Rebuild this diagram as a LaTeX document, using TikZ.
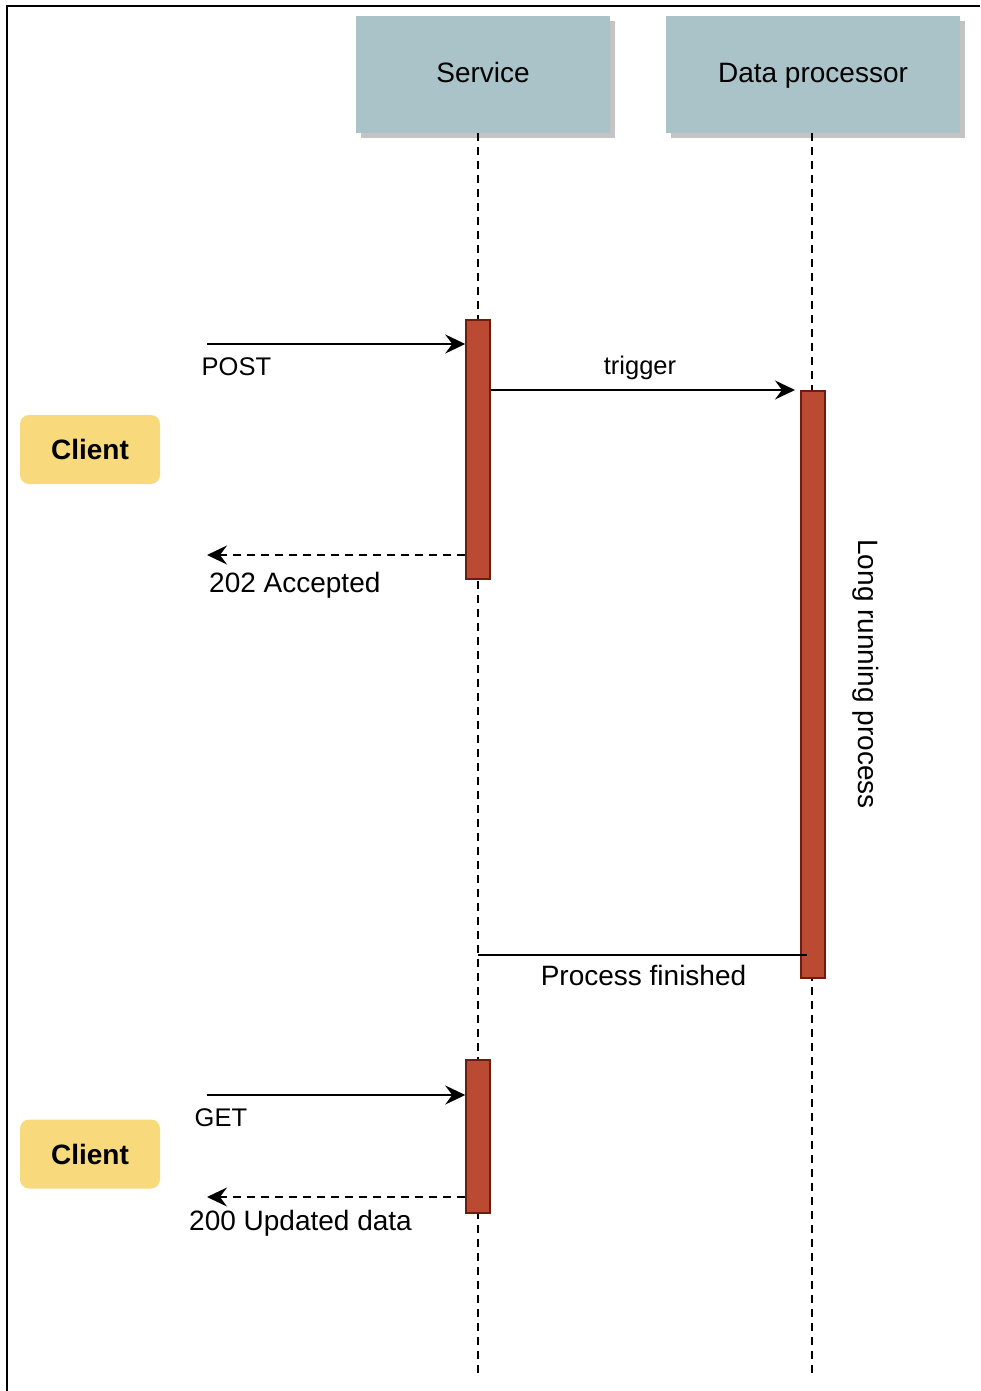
\documentclass[tikz,border=0pt]{standalone}
\usepackage{fontspec}
\setmainfont{Liberation Sans}
\usetikzlibrary{arrows.meta,shadows}
\definecolor{hdrfill}{HTML}{A9C3C8}
\definecolor{shadowgray}{HTML}{C4C4C4}
\definecolor{actfill}{HTML}{BA4A32}
\definecolor{actdraw}{HTML}{6E1C10}
\definecolor{clientfill}{HTML}{F8D97B}
\begin{document}
\begin{tikzpicture}[x=1pt,y=-1pt,
  hdr/.style={fill=hdrfill, inner sep=0pt, minimum height=117pt, text height=20pt, text depth=3pt,
    font=\fontsize{28}{33}\selectfont,
    general shadow={shadow xshift=5pt, shadow yshift=-5pt, fill=shadowgray}},
  act/.style={draw=actdraw, fill=actfill, line width=1.5pt, inner sep=0pt, minimum width=24pt},
  client/.style={fill=clientfill, rounded corners=9pt, inner sep=0pt, minimum width=140pt, minimum height=69pt,
    text height=20pt, text depth=0pt, font=\fontsize{28}{33}\selectfont\bfseries},
  lbl/.style={inner sep=0pt, font=\fontsize{28}{33}\selectfont},
  slbl/.style={inner sep=0pt, font=\fontsize{25.5}{30}\selectfont},
  lifeline/.style={line width=2.2pt, dash pattern=on 8pt off 6pt},
  msg/.style={line width=2pt, -{Stealth[length=20pt,width=19pt,inset=7pt]}},
  retmsg/.style={msg, dash pattern=on 8pt off 6pt},
  frameline/.style={line width=2.6pt}
]
\useasboundingbox (0,0) rectangle (980,1391);
% frame
\coordinate (ftl) at (7,6);
\coordinate (ftr) at (980,6);
\coordinate (fbl) at (7,1391);
\draw[frameline] (fbl) -- (ftl) -- (ftr);

% headers
\node[hdr, minimum width=254pt] (svc) at (483,74.5) {Service};
\node[hdr, minimum width=294pt] (dp) at (813,74.5) {Data processor};

% lifelines
\coordinate (svcEnd) at (478,1376);
\coordinate (dpEnd) at (812,1378);
\draw[lifeline] (svc.south -| svcEnd) -- (svcEnd);
\draw[lifeline] (dp.south -| dpEnd) -- (dpEnd);

% activations
\node[act, minimum height=259pt] (act1) at (478,449.5) {};
\node[act, minimum height=587pt] (act2) at (813,684.5) {};
\node[act, minimum height=153pt] (act3) at (478,1136.5) {};

% clients
\node[client] (c1) at (90,449.5) {Client};
\node[client] (c2) at (90,1154) {Client};

% POST
\coordinate (postL) at (207,344);
\draw[msg] (postL) -- (postL -| act1.west);
\node[slbl, anchor=base west] (postLbl) at (201.5,375.5) {POST};

% trigger
\coordinate (trigR) at (795,390);
\draw[msg] (act1.east |- trigR) -- (trigR);
\node[slbl, anchor=base] (trigLbl) at (640,374) {trigger};

% 202 Accepted
\coordinate (accL) at (207,555);
\draw[retmsg] (accL -| act1.west) -- (accL);
\node[lbl, anchor=base west] (accLbl) at (209,592) {202 Accepted};

% Long running process
\node[lbl, rotate=-90, anchor=base] (lrp) at (858,674) {Long running process};

% Process finished
\coordinate (pfR) at (807,955);
\draw[line width=2pt] (pfR) -- (pfR -| svcEnd);
\node[lbl, anchor=base] (pfLbl) at (643.5,985) {Process finished};

% GET
\coordinate (getL) at (207,1095);
\draw[msg] (getL) -- (getL -| act3.west);
\node[slbl, anchor=base west] (getLbl) at (194.5,1126.5) {GET};

% 200 Updated data
\coordinate (updL) at (207,1197);
\draw[retmsg] (updL -| act3.west) -- (updL);
\node[lbl, anchor=base west] (updLbl) at (189,1230) {200 Updated data};
\end{tikzpicture}
\end{document}
